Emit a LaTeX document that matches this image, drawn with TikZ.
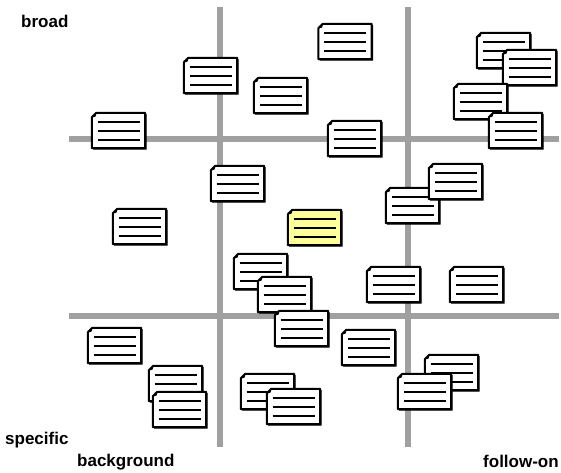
\documentclass[tikz,border=0pt]{standalone}
\usepackage{fontspec}
\setmainfont{Liberation Sans}
\definecolor{gridgray}{RGB}{160,160,160}
\definecolor{noteyellow}{RGB}{255,255,153}
\tikzset{
  gridline/.style={draw=gridgray,line width=6pt},
  docframe/.style={rectangle,minimum width=53pt,minimum height=35pt,inner sep=0pt},
  docedge/.style={draw=black,line width=2pt,line join=round},
  docrule/.style={draw=black,line width=1.8pt},
  axislabel/.style={font=\bfseries\fontsize{17}{20}\selectfont,inner sep=0pt,anchor=base west}
}
\newcommand\docnote[4][white]{%
  \node[docframe] (#2) at (#3,#4) {};
  \fill[black,line join=round] ([shift={(1.3pt,-5.8pt)}]#2.north west) -- ([shift={(5.8pt,-1.3pt)}]#2.north west)
     -- ([shift={(1.3pt,-1.3pt)}]#2.north east) -- ([shift={(1.3pt,-1.3pt)}]#2.south east)
     -- ([shift={(1.3pt,-1.3pt)}]#2.south west) -- cycle;
  \draw[docedge,fill=#1] ([yshift=-4.5pt]#2.north west) -- ([xshift=4.5pt]#2.north west)
     -- (#2.north east) -- (#2.south east) -- (#2.south west) -- cycle;
  \fill[black] ([yshift=-4.5pt]#2.north west) -- ([xshift=4.5pt]#2.north west)
     -- ([shift={(3.8pt,-3.8pt)}]#2.north west) -- cycle;
  \foreach \dy in {8.5,-0.5,-9.5}{%
    \draw[docrule] ([shift={(-21pt,\dy pt)}]#2.center) -- ++(42pt,0pt);
  }%
}
\begin{document}
\begin{tikzpicture}[x=1pt,y=-1pt]
\useasboundingbox (0,0) rectangle (561,472);
% grid
\coordinate (v1t) at (220,7); \coordinate (v1b) at (220,447);
\coordinate (v2t) at (408,7); \coordinate (v2b) at (408,447);
\coordinate (h1l) at (69,139); \coordinate (h1r) at (559,139);
\coordinate (h2l) at (69,316); \coordinate (h2r) at (559,316);
\draw[gridline] (v1t) -- (v1b);
\draw[gridline] (v2t) -- (v2b);
\draw[gridline] (h1l) -- (h1r);
\draw[gridline] (h2l) -- (h2r);
% notes
\docnote{d1}{345}{41.5}
\docnote{d2}{210.5}{75.5}
\docnote{d3}{280.5}{95.5}
\docnote{d4}{118.5}{130.5}
\docnote{d5}{354.5}{138.5}
\docnote{d6}{503.5}{50.5}
\docnote{d7}{529.5}{67.5}
\docnote{d8}{480.5}{101.5}
\docnote{d9}{515.5}{130.5}
\docnote{d10}{237.5}{183.5}
\docnote{d12}{412.5}{205.5}
\docnote{d11}{455.5}{181.5}
\docnote{d13}{139.5}{226.5}
\docnote[noteyellow]{d14}{314.5}{227.5}
\docnote{d15}{260.5}{271.5}
\docnote{d16}{284.5}{294.5}
\docnote{d17}{301.5}{328.5}
\docnote{d18}{393.5}{284.5}
\docnote{d19}{476.5}{284.5}
\docnote{d20}{114.5}{345.5}
\docnote{d21}{368.5}{347.5}
\docnote{d22}{451.5}{372.5}
\docnote{d23}{424.5}{391.5}
\docnote{d24}{175.5}{383.5}
\docnote{d25}{179.5}{409.5}
\docnote{d26}{267.5}{391.5}
\docnote{d27}{293.5}{406.5}
% labels
\node[axislabel] (broad) at (21,27) {broad};
\node[axislabel] (specific) at (5,444) {specific};
\node[axislabel] (background) at (77,466) {background};
\node[axislabel] (followon) at (483,467) {follow-on};
\end{tikzpicture}
\end{document}
